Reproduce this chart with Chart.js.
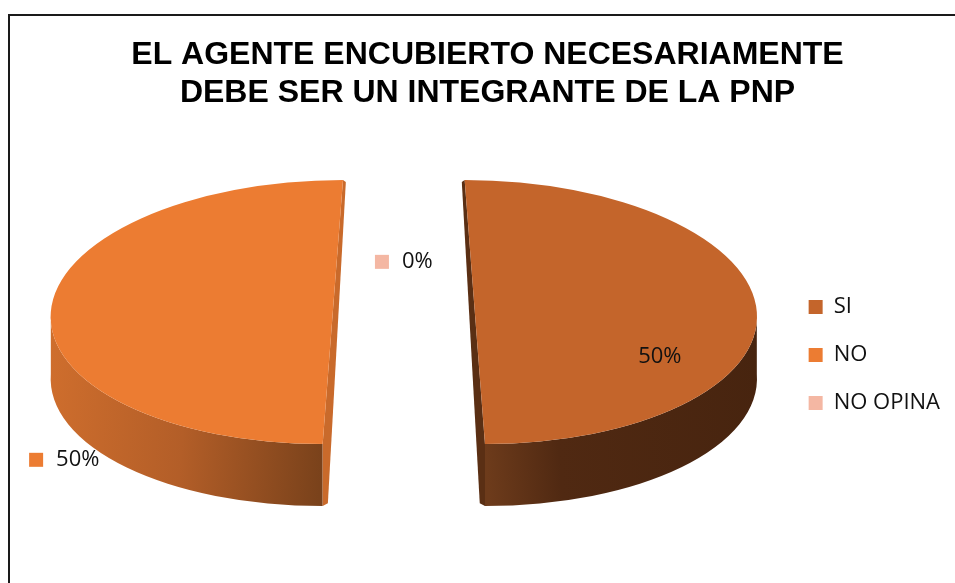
<!DOCTYPE html>
<html>
<head>
<meta charset="utf-8">
<script src="https://cdn.jsdelivr.net/npm/chart.js@4.4.0/dist/chart.umd.min.js"></script>
<style>
  html, body { margin: 0; padding: 0; background: #fff; }
  #caja { width: 955px; height: 583px; }
</style>
</head>
<body>
<div id="caja"><canvas id="grafico" width="955" height="583"></canvas></div>
<script>
const categorias = ["SI", "NO", "NO OPINA"];
const porcentajes = [50, 50, 0];
const titulo = ["EL AGENTE ENCUBIERTO NECESARIAMENTE", "DEBE SER UN INTEGRANTE DE LA PNP"];

const coloresCara = ["#C4652B", "#EC7C32", "#F4B7A3"];
// degradado del borde lateral de cada porcion (posicion 0..1 de izquierda a derecha)
const coloresLado = [
  [[0.5, "#6D3B1B"], [0.63, "#502912"], [1, "#47240F"]],
  [[0, "#CF6E2D"], [0.25, "#B35E28"], [0.5, "#7A421B"]],
  [[0, "#D99A85"], [1, "#B97A66"]]
];
const coloresCorte = ["#5A2F14", "#C96A2B", "#D99A85"];

// aspecto "3D"
const RADIO = 282;
const INCLINACION = 0.468;
const PROFUNDIDAD = 62;
const SEPARACION = 71;
const PERSPECTIVA = 0.077;
const SUBIR = -43;

// etiquetas: posicion relativa al centro de la torta (en radios)
const posEtiquetas = [[0.908, 0.34], [-1.204, 1.12], [0, -0.38]];
const conClave = [false, true, true];

const fuente = "'Open Sans', 'DejaVu Sans', sans-serif";

function proyectar(ctx, arc) {
  const medio = (arc.startAngle + arc.endAngle) / 2;
  const sesgo = PERSPECTIVA * Math.cos(medio);
  ctx.translate(arc.x, arc.y + SUBIR);
  ctx.transform(1, 0, sesgo, 1, 0, 0);
  ctx.scale(1, INCLINACION);
  ctx.translate(Math.cos(medio) * SEPARACION, Math.sin(medio) * SEPARACION);
  ctx.translate(-arc.x, -arc.y);
  return sesgo;
}

const marco = {
  id: "marco",
  beforeDraw(chart) {
    const ctx = chart.ctx;
    ctx.save();
    ctx.strokeStyle = "#1a1a1a";
    ctx.lineWidth = 2;
    ctx.beginPath();
    ctx.moveTo(9, 583);
    ctx.lineTo(9, 15);
    ctx.lineTo(955, 15);
    ctx.stroke();
    ctx.restore();
  }
};

const torta3d = {
  id: "torta3d",
  beforeDatasetsDraw(chart) {
    const ctx = chart.ctx;
    const arcos = chart.getDatasetMeta(0).data;

    // bordes laterales y caras de corte
    arcos.forEach((arc, i) => {
      if (arc.circumference === 0) return;
      const r = arc.outerRadius;
      ctx.save();
      const sesgo = proyectar(ctx, arc);
      const dx = -sesgo * PROFUNDIDAD;
      const dy = PROFUNDIDAD / INCLINACION;

      const a0 = Math.max(arc.startAngle, 0);
      const a1 = Math.min(arc.endAngle, Math.PI);
      if (a1 > a0) {
        const grad = ctx.createLinearGradient(arc.x - r, 0, arc.x + r, 0);
        coloresLado[i].forEach(([p, c]) => grad.addColorStop(p, c));
        ctx.fillStyle = grad;
        ctx.beginPath();
        ctx.arc(arc.x, arc.y, r, a0, a1);
        ctx.arc(arc.x + dx, arc.y + dy, r, a1, a0, true);
        ctx.closePath();
        ctx.fill();
      }

      // cara de corte (vista en perspectiva, hacia el hueco)
      const medio = (arc.startAngle + arc.endAngle) / 2;
      const lado = -Math.sign(Math.cos(medio));
      ctx.fillStyle = coloresCorte[i];
      ctx.beginPath();
      ctx.moveTo(arc.x, arc.y - r);
      ctx.lineTo(arc.x, arc.y + r);
      ctx.lineTo(arc.x + dx, arc.y + r + dy);
      ctx.lineTo(arc.x + dx + lado * 5, arc.y + r + dy - 6);
      ctx.lineTo(arc.x + lado * 3, arc.y - r + 4);
      ctx.closePath();
      ctx.fill();
      ctx.restore();
    });

    // caras superiores, dibujadas por los propios arcos de Chart.js
    arcos.forEach((arc) => {
      ctx.save();
      proyectar(ctx, arc);
      arc.draw(ctx);
      ctx.restore();
    });

    // etiquetas de datos
    const base = arcos[0];
    const cx = base.x;
    const cy = base.y + SUBIR;
    const r = base.outerRadius;
    ctx.save();
    ctx.font = "22px " + fuente;
    ctx.textBaseline = "middle";
    porcentajes.forEach((v, i) => {
      const texto = v + "%";
      const px = cx + posEtiquetas[i][0] * r;
      const py = cy + posEtiquetas[i][1] * r * INCLINACION;
      const ancho = ctx.measureText(texto).width;
      if (conClave[i]) {
        const izq = px - (14 + 13 + ancho) / 2;
        ctx.fillStyle = coloresCara[i];
        ctx.fillRect(izq, py - 7, 14, 14);
        ctx.fillStyle = "#111";
        ctx.textAlign = "left";
        ctx.fillText(texto, izq + 27, py);
      } else {
        ctx.fillStyle = "#111";
        ctx.textAlign = "center";
        ctx.fillText(texto, px, py);
      }
    });
    ctx.restore();
    return false;
  }
};

new Chart(document.getElementById("grafico"), {
  type: "pie",
  data: {
    labels: categorias,
    datasets: [{
      data: porcentajes,
      backgroundColor: coloresCara,
      borderWidth: 0,
      hoverOffset: 0,
      radius: RADIO
    }]
  },
  options: {
    responsive: false,
    devicePixelRatio: 1,
    animation: false,
    events: [],
    layout: { padding: { left: 25, right: 5, top: 0, bottom: 0 } },
    plugins: {
      title: {
        display: true,
        text: titulo,
        color: "#000",
        font: { family: "'Liberation Sans', Arial, sans-serif", size: 32, weight: "bold", lineHeight: "38px" },
        padding: { top: 36, bottom: 15 }
      },
      legend: {
        position: "right",
        fullSize: false,
        labels: {
          boxWidth: 14,
          boxHeight: 14,
          padding: 26,
          color: "#111",
          font: { family: fuente, size: 22 }
        }
      },
      tooltip: { enabled: false }
    }
  },
  plugins: [marco, torta3d]
});
</script>
</body>
</html>
